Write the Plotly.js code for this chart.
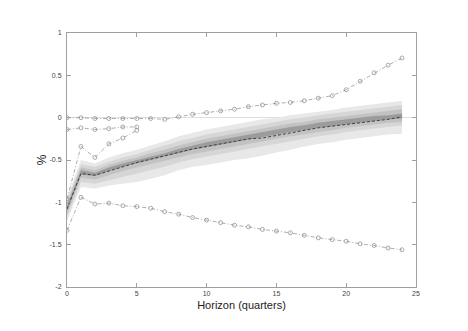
<!DOCTYPE html>
<html>
<head>
<meta charset="utf-8">
<script src="https://cdn.plot.ly/plotly-3.0.1.min.js"></script>
<style>body{margin:0;background:#fff}#plot{width:468px;height:331px}</style>
</head>
<body>
<div id="plot"></div>
<script>
// horizon in quarters
let horizon = [0,1,2,3,4,5,6,7,8,9,10,11,12,13,14,15,16,17,18,19,20,21,22,23,24]
let shortHorizon = [0,1,2,3,4,5]

// fan bands, outer to inner
let outerLo = [-1.22,-0.82,-0.84,-0.80,-0.78,-0.76,-0.72,-0.68,-0.62,-0.58,-0.56,-0.53,-0.50,-0.48,-0.45,-0.41,-0.38,-0.34,-0.31,-0.29,-0.26,-0.24,-0.22,-0.20,-0.19]
let outerHi = [-0.95,-0.50,-0.54,-0.47,-0.42,-0.38,-0.33,-0.28,-0.22,-0.18,-0.14,-0.11,-0.08,-0.05,-0.02,0.00,0.03,0.05,0.07,0.09,0.12,0.14,0.16,0.18,0.20]
let band2Lo = [-1.18,-0.76,-0.78,-0.74,-0.70,-0.66,-0.62,-0.58,-0.53,-0.49,-0.46,-0.43,-0.40,-0.37,-0.34,-0.31,-0.28,-0.25,-0.22,-0.20,-0.17,-0.15,-0.13,-0.11,-0.09]
let band2Hi = [-0.98,-0.55,-0.58,-0.52,-0.47,-0.43,-0.38,-0.33,-0.28,-0.24,-0.20,-0.17,-0.14,-0.11,-0.08,-0.05,-0.02,0.00,0.03,0.05,0.07,0.09,0.11,0.13,0.15]
let band3Lo = [-1.14,-0.71,-0.73,-0.68,-0.63,-0.59,-0.55,-0.51,-0.47,-0.43,-0.40,-0.37,-0.34,-0.31,-0.28,-0.25,-0.22,-0.20,-0.17,-0.15,-0.12,-0.10,-0.08,-0.06,-0.05]
let band3Hi = [-1.01,-0.59,-0.62,-0.56,-0.51,-0.47,-0.42,-0.38,-0.33,-0.29,-0.25,-0.22,-0.19,-0.16,-0.13,-0.10,-0.07,-0.05,-0.02,0.00,0.02,0.04,0.06,0.08,0.10]
let coreLo = [-1.10,-0.67,-0.69,-0.63,-0.58,-0.54,-0.50,-0.46,-0.42,-0.38,-0.35,-0.32,-0.29,-0.26,-0.23,-0.20,-0.17,-0.15,-0.12,-0.10,-0.08,-0.06,-0.04,-0.02,-0.01]
let coreHi = [-1.04,-0.62,-0.65,-0.59,-0.54,-0.50,-0.46,-0.42,-0.37,-0.33,-0.29,-0.26,-0.23,-0.20,-0.17,-0.14,-0.11,-0.09,-0.06,-0.04,-0.02,0.00,0.02,0.03,0.05]

// median path
let median = [-1.08,-0.66,-0.68,-0.63,-0.58,-0.53,-0.49,-0.45,-0.41,-0.37,-0.34,-0.31,-0.28,-0.25,-0.24,-0.21,-0.18,-0.15,-0.12,-0.10,-0.08,-0.06,-0.04,-0.02,0.01]

// other paths (circle markers)
let upperPath = [0.00,0.00,-0.01,-0.01,-0.01,-0.01,-0.01,-0.02,0.01,0.04,0.06,0.08,0.10,0.13,0.15,0.17,0.18,0.20,0.23,0.26,0.33,0.43,0.53,0.62,0.705]
let lowerPath = [-1.33,-0.94,-1.02,-1.01,-1.04,-1.05,-1.07,-1.11,-1.14,-1.18,-1.21,-1.24,-1.27,-1.29,-1.32,-1.34,-1.36,-1.39,-1.42,-1.44,-1.46,-1.49,-1.51,-1.54,-1.56]
let shortPathA = [-0.14,-0.12,-0.14,-0.13,-0.11,-0.11]
let shortPathB = [-0.96,-0.34,-0.47,-0.31,-0.24,-0.15]

let yTicks = [-2,-1.5,-1,-0.5,0,0.5,1]
let yTickText = ["-2","-1.5","-1","-0.5","0","0.5","1"]
let xTicks = [0,5,10,15,20,25]

let data = []

// bands: lower edge then upper edge filled to it
let bands = [
    [outerLo, outerHi, "#e8e8e8"],
    [band2Lo, band2Hi, "#d6d6d6"],
    [band3Lo, band3Hi, "#c2c2c2"],
    [coreLo, coreHi, "#9c9c9c"]
]
for (let b of bands){
    data.push({x: horizon, y: b[0], mode: "lines", line: {width: 0}, hoverinfo: "skip"})
    data.push({x: horizon, y: b[1], mode: "lines", line: {width: 0}, fill: "tonexty", fillcolor: b[2], hoverinfo: "skip"})
}

// dash-dot circle paths
let pathStyle = {
    mode: "lines+markers",
    line: {color: "#8a8a8a", width: 0.7, dash: "4px,2px,1px,2px"},
    marker: {symbol: "circle-open", size: 4, color: "#8a8a8a", line: {width: 0.7}}
}
data.push(Object.assign({x: horizon, y: upperPath}, pathStyle))
data.push(Object.assign({x: horizon, y: lowerPath}, pathStyle))
data.push(Object.assign({x: shortHorizon, y: shortPathA}, pathStyle))
data.push(Object.assign({x: shortHorizon, y: shortPathB}, pathStyle))

// median
data.push({x: horizon, y: median, mode: "lines", line: {color: "#333", width: 0.9, dash: "3px,2px"}})

let axisCommon = {
    showgrid: false,
    showline: true,
    mirror: "ticks",
    linecolor: "#a0a0a0",
    linewidth: 1,
    ticks: "inside",
    ticklen: 4,
    tickcolor: "#a0a0a0",
    tickfont: {family: "Liberation Sans, Arial", size: 7, color: "#444"}
}

let layout = {
    width: 468,
    height: 331,
    margin: {l: 67, r: 52, t: 33, b: 44},
    showlegend: false,
    paper_bgcolor: "#fff",
    plot_bgcolor: "#fff",
    xaxis: Object.assign({}, axisCommon, {
        range: [0, 25],
        tickvals: xTicks,
        zeroline: false,
        title: {text: "Horizon (quarters)", standoff: 4, font: {family: "Liberation Sans, Arial", size: 11, color: "#222"}}
    }),
    yaxis: Object.assign({}, axisCommon, {
        range: [-2, 1],
        tickvals: yTicks,
        ticktext: yTickText,
        ticklabelstandoff: 3,
        zeroline: true,
        zerolinecolor: "#dedede",
        zerolinewidth: 1,
        title: {text: "%", standoff: 0, font: {family: "Liberation Sans, Arial", size: 12, color: "#222"}}
    })
}

Plotly.newPlot("plot", data, layout, {staticPlot: true});
</script>
</body>
</html>
